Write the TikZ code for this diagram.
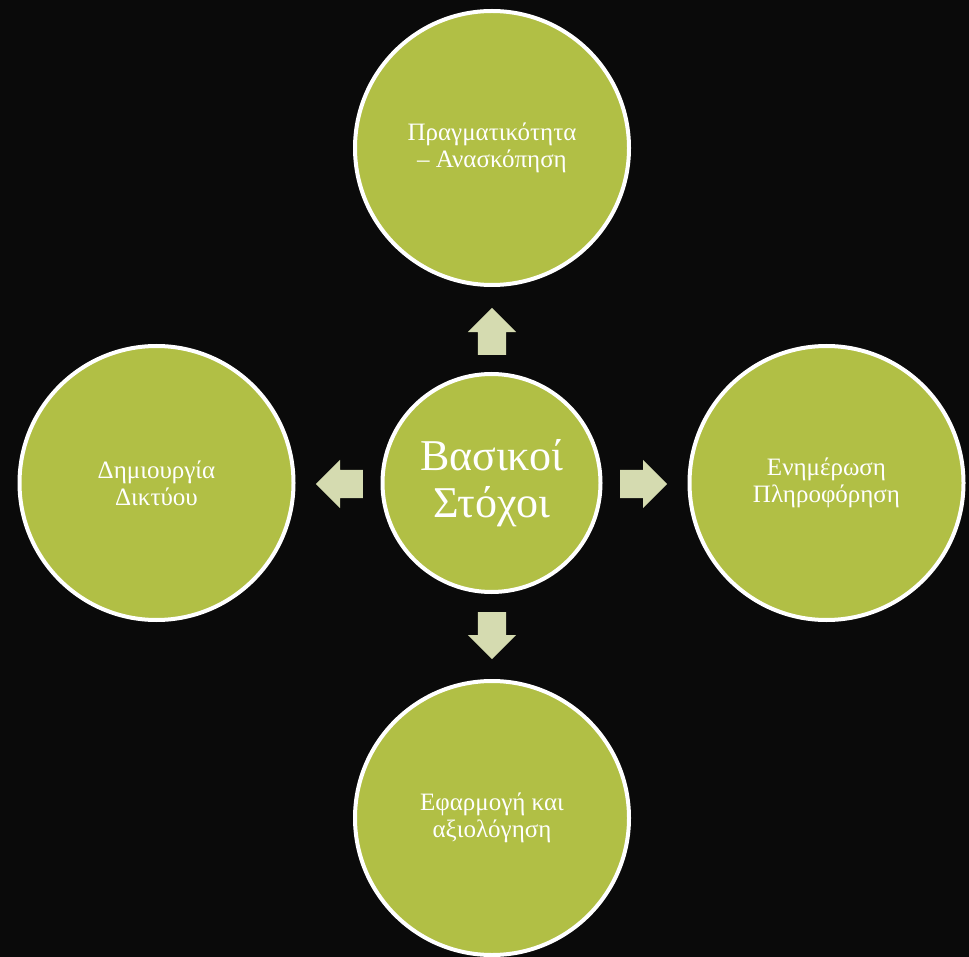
\documentclass[tikz,border=0pt]{standalone}
\usepackage{fontspec}
\setmainfont{Liberation Serif}
\usetikzlibrary{shapes.arrows}
\definecolor{bg}{HTML}{0A0A0A}
\definecolor{leaf}{HTML}{B1BF45}
\definecolor{arr}{HTML}{D5DBB0}
\tikzset{
  outer/.style={circle, draw=white, line width=4pt, fill=leaf, minimum size=274pt, inner sep=0pt,
    text=white, align=center, font=\fontsize{25}{27}\selectfont},
  hub/.style={circle, draw=white, line width=4pt, fill=leaf, minimum size=218pt, inner sep=0pt,
    text=white, align=center, font=\fontsize{44}{47}\selectfont},
  arrowbox/.style={single arrow, fill=arr, draw=none, inner xsep=0pt, inner ysep=14pt,
    minimum height=47pt, single arrow head extend=10pt, anchor=tail}
}
\begin{document}
\begin{tikzpicture}[x=1pt,y=-1pt]
\fill[bg] (0,0) rectangle (969,957);
\useasboundingbox (0,0) rectangle (969,957);
\node[hub] (c) at (491.5,483) {Βασικοί\\Στόχοι};
\node[outer] (t) at (492,148) {Πραγματικότητα\\– Ανασκόπηση};
\node[outer] (r) at (826.5,483) {Ενημέρωση\\Πληροφόρηση};
\node[outer] (b) at (492,818) {Εφαρμογή και\\αξιολόγηση};
\node[outer] (l) at (156.5,483) {Δημιουργία\\Δικτύου};
\node[arrowbox, rotate=90] (au) at (492,355) {};
\node[arrowbox] (ar) at (620,484) {};
\node[arrowbox, rotate=-90] (ad) at (492,612) {};
\node[arrowbox, rotate=180] (al) at (363,484) {};
\end{tikzpicture}
\end{document}
